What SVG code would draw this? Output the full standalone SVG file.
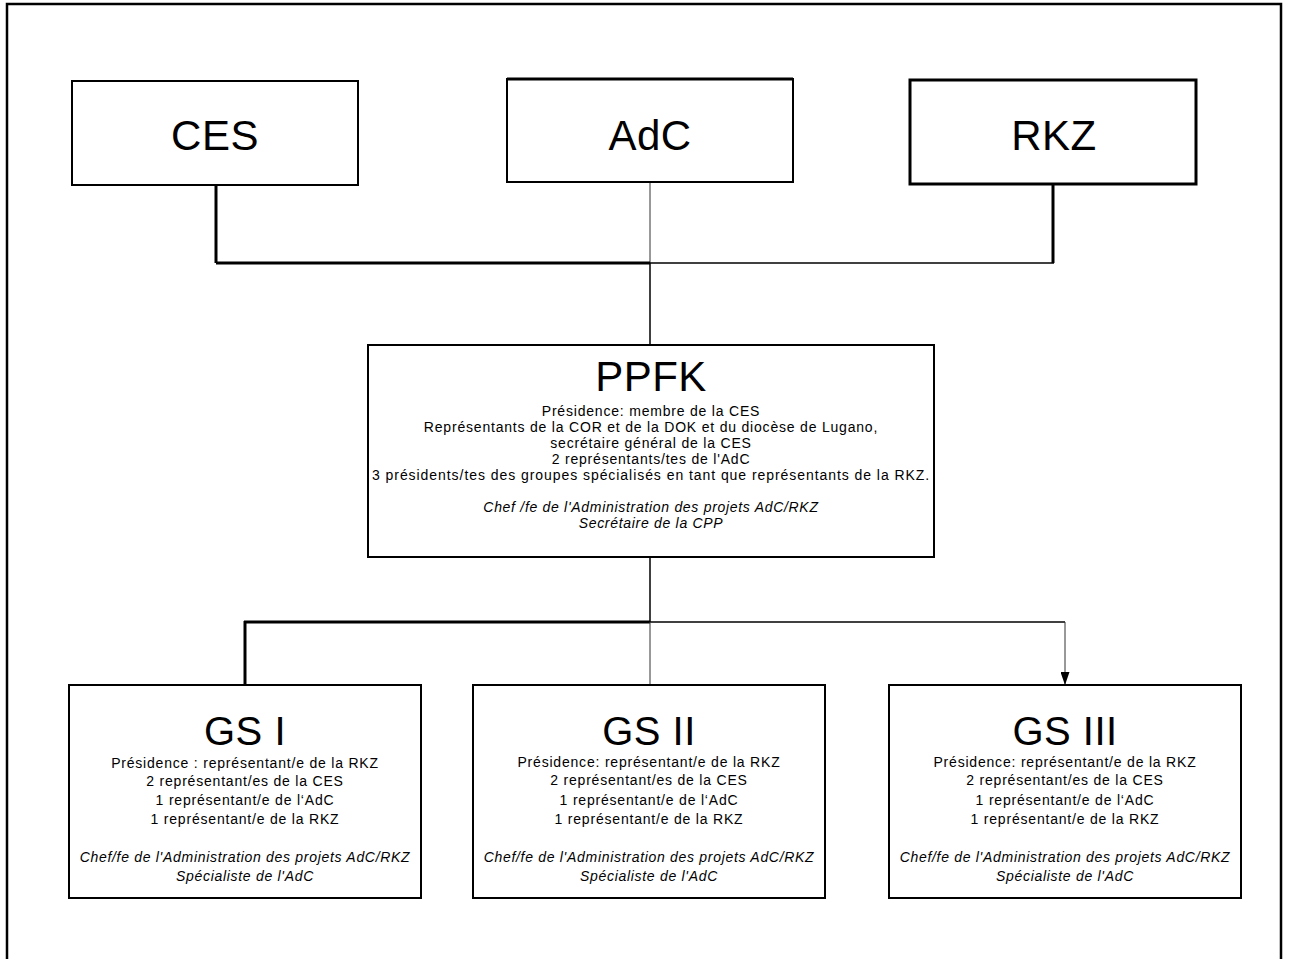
<svg xmlns="http://www.w3.org/2000/svg" width="1290" height="959" viewBox="0 0 1290 959">
<defs>
<style>
.box{fill:#fff;stroke:#000;stroke-width:2}
.t{font-family:"Liberation Sans",Arial,sans-serif;fill:#000;text-anchor:middle}
.title{font-size:42px;letter-spacing:0.5px}
.gt{font-size:40px;letter-spacing:0.5px}
.b{font-size:14px;letter-spacing:0.8px}
.i{font-size:14px;font-style:italic;letter-spacing:0.7px}
.thick{stroke:#000;stroke-width:3;fill:none}
.mid{stroke:#000;stroke-width:1.5;fill:none}
.thin{stroke:#333;stroke-width:1;fill:none}
</style>
<marker id="arr" viewBox="0 0 13 9" refX="13" refY="4.5" markerWidth="13" markerHeight="9" markerUnits="userSpaceOnUse" orient="auto">
<path d="M0,0 L13,4.5 L0,9 Z" fill="#000"/>
</marker>
</defs>
<rect x="7" y="4" width="1274" height="970" fill="#fff" stroke="#000" stroke-width="2.5"/>

<g id="connectors">
<line class="thick" x1="216" y1="185" x2="216" y2="263"/>
<line class="thick" x1="1053" y1="184" x2="1053" y2="263"/>
<line class="thin" x1="650" y1="182" x2="650" y2="263"/>
<line class="thick" x1="216" y1="263" x2="650" y2="263"/>
<line class="mid" x1="650" y1="263" x2="1054" y2="263"/>
<line class="mid" x1="650" y1="263" x2="650" y2="345"/>
<line class="mid" x1="650" y1="557" x2="650" y2="622"/>
<line class="thick" x1="244" y1="622" x2="650" y2="622"/>
<line class="mid" x1="650" y1="622" x2="1065" y2="622"/>
<line class="thick" x1="245" y1="621" x2="245" y2="685"/>
<line class="thin" x1="650" y1="622" x2="650" y2="685"/>
<line class="thin" x1="1065" y1="622" x2="1065" y2="685" marker-end="url(#arr)"/>
</g>

<g id="ces">
<rect class="box" x="72" y="81" width="286" height="104"/>
<text class="t title" x="215" y="150">CES</text>
</g>
<g id="adc">
<rect class="box" x="507" y="79" width="286" height="103"/>
<line x1="507" y1="79" x2="793" y2="79" stroke="#000" stroke-width="3"/>
<text class="t title" x="650" y="150">AdC</text>
</g>
<g id="rkz">
<rect class="box" x="910" y="80" width="286" height="104" style="stroke-width:3"/>
<text class="t title" x="1054" y="150">RKZ</text>
</g>

<g id="ppfk">
<rect class="box" x="368" y="345" width="566" height="212"/>
<text class="t title" x="651" y="391">PPFK</text>
<text class="t b" x="651" y="416">Présidence: membre de la CES</text>
<text class="t b" x="651" y="432">Représentants de la COR et de la DOK et du diocèse de Lugano,</text>
<text class="t b" x="651" y="448">secrétaire général de la CES</text>
<text class="t b" x="651" y="464">2 représentants/tes de l'AdC</text>
<text class="t b" x="651" y="480" textLength="558" lengthAdjust="spacing">3 présidents/tes des groupes spécialisés en tant que représentants de la RKZ.</text>
<text class="t i" x="651" y="512">Chef /fe de l'Administration des projets AdC/RKZ</text>
<text class="t i" x="651" y="528">Secrétaire de la CPP</text>
</g>

<g id="gs1">
<rect class="box" x="69" y="685" width="352" height="213"/>
<text class="t gt" x="245" y="745">GS I</text>
<text class="t b" x="245" y="768">Présidence : représentant/e de la RKZ</text>
<text class="t b" x="245" y="786">2 représentant/es de la CES</text>
<text class="t b" x="245" y="805">1  représentant/e de l‘AdC</text>
<text class="t b" x="245" y="824">1  représentant/e de la RKZ</text>
<text class="t i" x="245" y="862">Chef/fe de l'Administration des projets AdC/RKZ</text>
<text class="t i" x="245" y="881">Spécialiste de l'AdC</text>
</g>

<g id="gs2">
<rect class="box" x="473" y="685" width="352" height="213"/>
<text class="t gt" x="649" y="745">GS II</text>
<text class="t b" x="649" y="767">Présidence: représentant/e de la RKZ</text>
<text class="t b" x="649" y="785">2 représentant/es de la CES</text>
<text class="t b" x="649" y="805">1  représentant/e de l‘AdC</text>
<text class="t b" x="649" y="824">1  représentant/e de la RKZ</text>
<text class="t i" x="649" y="862">Chef/fe de l'Administration des projets AdC/RKZ</text>
<text class="t i" x="649" y="881">Spécialiste de l'AdC</text>
</g>

<g id="gs3">
<rect class="box" x="889" y="685" width="352" height="213"/>
<text class="t gt" x="1065" y="745">GS III</text>
<text class="t b" x="1065" y="767">Présidence: représentant/e de la RKZ</text>
<text class="t b" x="1065" y="785">2 représentant/es de la CES</text>
<text class="t b" x="1065" y="805">1  représentant/e de l‘AdC</text>
<text class="t b" x="1065" y="824">1  représentant/e de la RKZ</text>
<text class="t i" x="1065" y="862">Chef/fe de l'Administration des projets AdC/RKZ</text>
<text class="t i" x="1065" y="881">Spécialiste de l'AdC</text>
</g>
</svg>
